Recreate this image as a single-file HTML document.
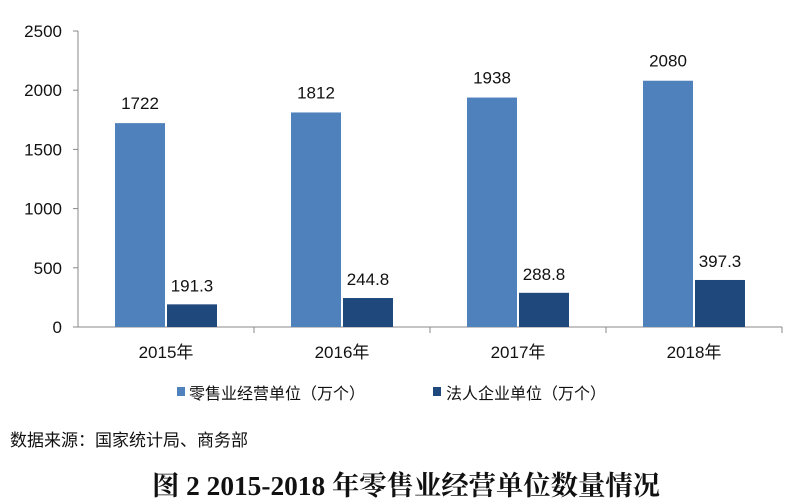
<!DOCTYPE html>
<html><head><meta charset="utf-8"><style>
body{margin:0;background:#fff;width:792px;height:502px;overflow:hidden}
svg{display:block}
text{font-family:"Liberation Sans","Noto Sans CJK SC",sans-serif;fill:#111}
</style></head><body>
<svg width="792" height="502">
<g id="plot"></g>
<g>
<rect x="177" y="387" width="8" height="9" fill="#4f81bd"/>
<text x="189" y="399" font-size="16">零售业经营单位（万个）</text>
<rect x="433" y="387" width="8" height="9" fill="#1f497d"/>
<text x="446" y="399" font-size="16">法人企业单位（万个）</text>
</g>
<text x="10" y="446" font-size="17">数据来源：国家统计局、商务部</text>
<text x="152" y="495" font-size="27" font-weight="bold" textLength="508" lengthAdjust="spacingAndGlyphs" style="font-family:'Liberation Serif','Noto Serif CJK SC',serif">图 2 2015-2018 年零售业经营单位数量情况</text>
</svg>
<script>
const categories=["2015年","2016年","2017年","2018年"];
const retailValues=[1722,1812,1938,2080];
const legalValues=[191.3,244.8,288.8,397.3];
const retailLabels=["1722","1812","1938","2080"];
const legalLabels=["191.3","244.8","288.8","397.3"];
const yTicks=[0,500,1000,1500,2000,2500];
const NS="http://www.w3.org/2000/svg";
const g=document.getElementById('plot');
const x0=78,cw=176,y0=327,yTop=31,ymax=2500,bw=50;
const y=v=>y0-(v/ymax)*(y0-yTop);
function el(t,a,txt){const e=document.createElementNS(NS,t);for(const k in a)e.setAttribute(k,a[k]);if(txt!==undefined)e.textContent=txt;g.appendChild(e);return e;}
let ax=el('line',{x1:x0,y1:yTop,x2:x0,y2:y0,stroke:'#888'});


let bx=el('line',{x1:x0,y1:y0,x2:x0+cw*categories.length,y2:y0,stroke:'#888'});


yTicks.forEach(v=>{
 let t=el('line',{x1:x0-5,y1:y(v),x2:x0,y2:y(v),stroke:'#888'});
 
 
 let l=el('text',{x:62,y:y(v)+6,'font-size':17,'text-anchor':'end'},String(v));
 
 
});
categories.forEach((c,i)=>{
 const cx=x0+cw*i+cw/2;
 let t=el('line',{x1:x0+cw*(i+1),y1:y0,x2:x0+cw*(i+1),y2:y0+6,stroke:'#888'});
 
 
 let b1=el('rect',{x:cx-bw-1,y:y(retailValues[i]),width:bw,height:y0-y(retailValues[i]),fill:'#4f81bd'});
 
 
 let b2=el('rect',{x:cx+1,y:y(legalValues[i]),width:bw,height:y0-y(legalValues[i]),fill:'#1f497d'});
 
 
 let l1=el('text',{x:cx-bw/2-1,y:y(retailValues[i])-14,'font-size':17,'text-anchor':'middle'},retailLabels[i]);
 
 
 let l2=el('text',{x:cx+bw/2+1,y:y(legalValues[i])-13,'font-size':17,'text-anchor':'middle'},legalLabels[i]);
 
 
 let xl=el('text',{x:cx,y:358,'font-size':17,'text-anchor':'middle'},c);
 
 
});
</script>
</body></html>
